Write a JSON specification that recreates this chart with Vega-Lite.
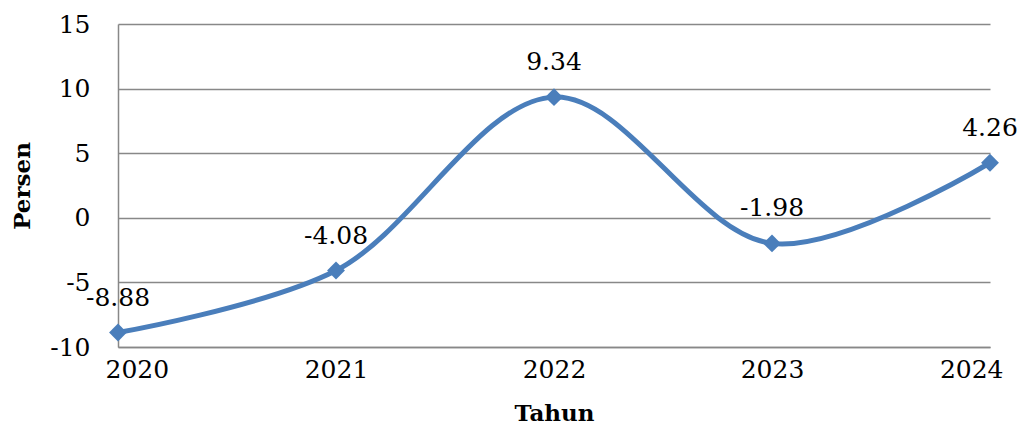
{
  "$schema": "https://vega.github.io/schema/vega-lite/v6.json",
  "width": 872,
  "height": 323,
  "autosize": "none",
  "padding": {"left": 118, "top": 24, "right": 29, "bottom": 81},
  "background": "white",
  "config": {
    "view": {"stroke": null},
    "font": "DejaVu Serif",
    "axis": {"labelFont": "DejaVu Serif", "titleFont": "DejaVu Serif", "labelColor": "black", "titleColor": "black"},
    "text": {"font": "DejaVu Serif"}
  },
  "data": {
    "values": [
      {"Tahun": "2020", "Persen": -8.88},
      {"Tahun": "2021", "Persen": -4.08},
      {"Tahun": "2022", "Persen": 9.34},
      {"Tahun": "2023", "Persen": -1.98},
      {"Tahun": "2024", "Persen": 4.26}
    ]
  },
  "encoding": {
    "x": {
      "field": "Tahun",
      "type": "ordinal",
      "scale": {"type": "point", "padding": 0},
      "axis": {
        "title": "Tahun",
        "labelAngle": 0,
        "labelFontSize": 25,
        "labelPadding": 10,
        "labelFlush": true,
        "labelFlushOffset": 13,
        "ticks": false,
        "grid": false,
        "domain": true,
        "domainColor": "#888888",
        "domainWidth": 1.5,
        "titleFontSize": 23,
        "titleFontWeight": "bold",
        "titleBaseline": "middle",
        "titleY": 66
      }
    },
    "y": {
      "field": "Persen",
      "type": "quantitative",
      "scale": {"domain": [-10, 15], "nice": false, "zero": false},
      "axis": {
        "title": "Persen",
        "values": [-10, -5, 0, 5, 10, 15],
        "labelExpr": "'' + datum.value",
        "labelFontSize": 25,
        "labelPadding": 28,
        "ticks": false,
        "grid": true,
        "gridColor": "#888888",
        "gridWidth": 1.5,
        "domain": true,
        "domainColor": "#888888",
        "domainWidth": 1.5,
        "titleFontSize": 23,
        "titleFontWeight": "bold",
        "titleAngle": -90,
        "titleBaseline": "middle",
        "titleX": -96,
        "titleY": 161.5
      }
    }
  },
  "layer": [
    {"mark": {"type": "line", "interpolate": "catmull-rom", "color": "#4A7EBB", "strokeWidth": 5}},
    {"mark": {"type": "point", "shape": "diamond", "filled": true, "size": 320, "color": "#4A7EBB", "opacity": 1}},
    {
      "mark": {"type": "text", "dy": -27, "fontSize": 25, "baseline": "alphabetic", "color": "black"},
      "encoding": {"text": {"field": "Persen", "type": "nominal"}}
    }
  ]
}
